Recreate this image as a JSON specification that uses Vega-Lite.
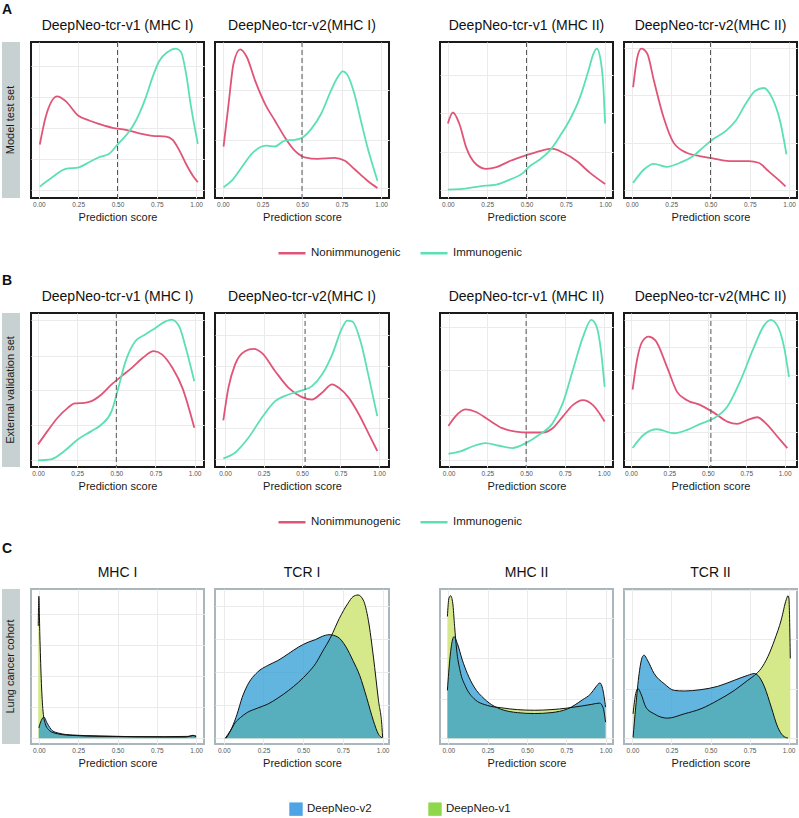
{
"$schema": "https://vega.github.io/schema/vega-lite/v6.json",
"padding": {"left": 2, "top": 2, "right": 0, "bottom": 0},
"background": "white",
"datasets": {"d": [
{"p":"A1","s":"Nonimmunogenic","x":0.006,"y":0.343},{"p":"A1","s":"Nonimmunogenic","x":0.043,"y":0.518},{"p":"A1","s":"Nonimmunogenic","x":0.117,"y":0.651},{"p":"A1","s":"Nonimmunogenic","x":0.170,"y":0.621},{"p":"A1","s":"Nonimmunogenic","x":0.249,"y":0.529},{"p":"A1","s":"Nonimmunogenic","x":0.319,"y":0.497},{"p":"A1","s":"Nonimmunogenic","x":0.383,"y":0.475},{"p":"A1","s":"Nonimmunogenic","x":0.468,"y":0.450},{"p":"A1","s":"Nonimmunogenic","x":0.553,"y":0.437},{"p":"A1","s":"Nonimmunogenic","x":0.638,"y":0.415},{"p":"A1","s":"Nonimmunogenic","x":0.723,"y":0.398},{"p":"A1","s":"Nonimmunogenic","x":0.809,"y":0.394},{"p":"A1","s":"Nonimmunogenic","x":0.851,"y":0.373},{"p":"A1","s":"Nonimmunogenic","x":0.894,"y":0.304},{"p":"A1","s":"Nonimmunogenic","x":0.936,"y":0.218},{"p":"A1","s":"Nonimmunogenic","x":0.979,"y":0.143},{"p":"A1","s":"Nonimmunogenic","x":1.011,"y":0.101},
{"p":"A1","s":"Immunogenic","x":0.006,"y":0.073},{"p":"A1","s":"Immunogenic","x":0.085,"y":0.133},{"p":"A1","s":"Immunogenic","x":0.170,"y":0.186},{"p":"A1","s":"Immunogenic","x":0.255,"y":0.197},{"p":"A1","s":"Immunogenic","x":0.319,"y":0.229},{"p":"A1","s":"Immunogenic","x":0.383,"y":0.261},{"p":"A1","s":"Immunogenic","x":0.447,"y":0.283},{"p":"A1","s":"Immunogenic","x":0.5,"y":0.343},{"p":"A1","s":"Immunogenic","x":0.553,"y":0.400},{"p":"A1","s":"Immunogenic","x":0.596,"y":0.458},{"p":"A1","s":"Immunogenic","x":0.638,"y":0.540},{"p":"A1","s":"Immunogenic","x":0.681,"y":0.647},{"p":"A1","s":"Immunogenic","x":0.723,"y":0.775},{"p":"A1","s":"Immunogenic","x":0.766,"y":0.878},{"p":"A1","s":"Immunogenic","x":0.819,"y":0.936},{"p":"A1","s":"Immunogenic","x":0.872,"y":0.957},{"p":"A1","s":"Immunogenic","x":0.904,"y":0.936},{"p":"A1","s":"Immunogenic","x":0.936,"y":0.797},{"p":"A1","s":"Immunogenic","x":0.968,"y":0.582},{"p":"A1","s":"Immunogenic","x":1.011,"y":0.347},
{"p":"A2","s":"Nonimmunogenic","x":0.004,"y":0.330},{"p":"A2","s":"Nonimmunogenic","x":0.036,"y":0.604},{"p":"A2","s":"Nonimmunogenic","x":0.067,"y":0.861},{"p":"A2","s":"Nonimmunogenic","x":0.109,"y":0.953},{"p":"A2","s":"Nonimmunogenic","x":0.151,"y":0.904},{"p":"A2","s":"Nonimmunogenic","x":0.203,"y":0.754},{"p":"A2","s":"Nonimmunogenic","x":0.266,"y":0.604},{"p":"A2","s":"Nonimmunogenic","x":0.328,"y":0.497},{"p":"A2","s":"Nonimmunogenic","x":0.391,"y":0.390},{"p":"A2","s":"Nonimmunogenic","x":0.454,"y":0.304},{"p":"A2","s":"Nonimmunogenic","x":0.517,"y":0.261},{"p":"A2","s":"Nonimmunogenic","x":0.600,"y":0.251},{"p":"A2","s":"Nonimmunogenic","x":0.705,"y":0.257},{"p":"A2","s":"Nonimmunogenic","x":0.768,"y":0.240},{"p":"A2","s":"Nonimmunogenic","x":0.831,"y":0.186},{"p":"A2","s":"Nonimmunogenic","x":0.914,"y":0.111},{"p":"A2","s":"Nonimmunogenic","x":0.977,"y":0.064},
{"p":"A2","s":"Immunogenic","x":0.004,"y":0.069},{"p":"A2","s":"Immunogenic","x":0.056,"y":0.111},{"p":"A2","s":"Immunogenic","x":0.119,"y":0.197},{"p":"A2","s":"Immunogenic","x":0.182,"y":0.283},{"p":"A2","s":"Immunogenic","x":0.245,"y":0.330},{"p":"A2","s":"Immunogenic","x":0.276,"y":0.336},{"p":"A2","s":"Immunogenic","x":0.328,"y":0.330},{"p":"A2","s":"Immunogenic","x":0.391,"y":0.368},{"p":"A2","s":"Immunogenic","x":0.454,"y":0.373},{"p":"A2","s":"Immunogenic","x":0.506,"y":0.390},{"p":"A2","s":"Immunogenic","x":0.559,"y":0.443},{"p":"A2","s":"Immunogenic","x":0.621,"y":0.540},{"p":"A2","s":"Immunogenic","x":0.684,"y":0.690},{"p":"A2","s":"Immunogenic","x":0.726,"y":0.775},{"p":"A2","s":"Immunogenic","x":0.757,"y":0.812},{"p":"A2","s":"Immunogenic","x":0.789,"y":0.786},{"p":"A2","s":"Immunogenic","x":0.831,"y":0.668},{"p":"A2","s":"Immunogenic","x":0.872,"y":0.497},{"p":"A2","s":"Immunogenic","x":0.914,"y":0.325},{"p":"A2","s":"Immunogenic","x":0.977,"y":0.111},
{"p":"A3","s":"Nonimmunogenic","x":0.0,"y":0.477},{"p":"A3","s":"Nonimmunogenic","x":0.032,"y":0.548},{"p":"A3","s":"Nonimmunogenic","x":0.074,"y":0.473},{"p":"A3","s":"Nonimmunogenic","x":0.117,"y":0.323},{"p":"A3","s":"Nonimmunogenic","x":0.181,"y":0.215},{"p":"A3","s":"Nonimmunogenic","x":0.245,"y":0.187},{"p":"A3","s":"Nonimmunogenic","x":0.309,"y":0.198},{"p":"A3","s":"Nonimmunogenic","x":0.394,"y":0.237},{"p":"A3","s":"Nonimmunogenic","x":0.5,"y":0.275},{"p":"A3","s":"Nonimmunogenic","x":0.585,"y":0.301},{"p":"A3","s":"Nonimmunogenic","x":0.660,"y":0.316},{"p":"A3","s":"Nonimmunogenic","x":0.734,"y":0.290},{"p":"A3","s":"Nonimmunogenic","x":0.819,"y":0.237},{"p":"A3","s":"Nonimmunogenic","x":0.904,"y":0.161},{"p":"A3","s":"Nonimmunogenic","x":1.0,"y":0.090},
{"p":"A3","s":"Immunogenic","x":0.0,"y":0.054},{"p":"A3","s":"Immunogenic","x":0.096,"y":0.058},{"p":"A3","s":"Immunogenic","x":0.202,"y":0.075},{"p":"A3","s":"Immunogenic","x":0.309,"y":0.086},{"p":"A3","s":"Immunogenic","x":0.394,"y":0.118},{"p":"A3","s":"Immunogenic","x":0.479,"y":0.161},{"p":"A3","s":"Immunogenic","x":0.521,"y":0.204},{"p":"A3","s":"Immunogenic","x":0.585,"y":0.247},{"p":"A3","s":"Immunogenic","x":0.649,"y":0.305},{"p":"A3","s":"Immunogenic","x":0.713,"y":0.398},{"p":"A3","s":"Immunogenic","x":0.777,"y":0.505},{"p":"A3","s":"Immunogenic","x":0.840,"y":0.645},{"p":"A3","s":"Immunogenic","x":0.894,"y":0.817},{"p":"A3","s":"Immunogenic","x":0.926,"y":0.925},{"p":"A3","s":"Immunogenic","x":0.947,"y":0.957},{"p":"A3","s":"Immunogenic","x":0.968,"y":0.903},{"p":"A3","s":"Immunogenic","x":0.989,"y":0.710},{"p":"A3","s":"Immunogenic","x":1.0,"y":0.477},
{"p":"A4","s":"Nonimmunogenic","x":0.008,"y":0.710},{"p":"A4","s":"Nonimmunogenic","x":0.035,"y":0.903},{"p":"A4","s":"Nonimmunogenic","x":0.060,"y":0.957},{"p":"A4","s":"Nonimmunogenic","x":0.098,"y":0.925},{"p":"A4","s":"Nonimmunogenic","x":0.140,"y":0.753},{"p":"A4","s":"Nonimmunogenic","x":0.202,"y":0.516},{"p":"A4","s":"Nonimmunogenic","x":0.265,"y":0.355},{"p":"A4","s":"Nonimmunogenic","x":0.348,"y":0.290},{"p":"A4","s":"Nonimmunogenic","x":0.431,"y":0.269},{"p":"A4","s":"Nonimmunogenic","x":0.515,"y":0.254},{"p":"A4","s":"Nonimmunogenic","x":0.619,"y":0.237},{"p":"A4","s":"Nonimmunogenic","x":0.744,"y":0.237},{"p":"A4","s":"Nonimmunogenic","x":0.806,"y":0.226},{"p":"A4","s":"Nonimmunogenic","x":0.869,"y":0.172},{"p":"A4","s":"Nonimmunogenic","x":0.931,"y":0.118},{"p":"A4","s":"Nonimmunogenic","x":0.977,"y":0.075},
{"p":"A4","s":"Immunogenic","x":0.008,"y":0.097},{"p":"A4","s":"Immunogenic","x":0.077,"y":0.183},{"p":"A4","s":"Immunogenic","x":0.140,"y":0.219},{"p":"A4","s":"Immunogenic","x":0.223,"y":0.200},{"p":"A4","s":"Immunogenic","x":0.306,"y":0.226},{"p":"A4","s":"Immunogenic","x":0.390,"y":0.269},{"p":"A4","s":"Immunogenic","x":0.452,"y":0.323},{"p":"A4","s":"Immunogenic","x":0.515,"y":0.376},{"p":"A4","s":"Immunogenic","x":0.598,"y":0.430},{"p":"A4","s":"Immunogenic","x":0.660,"y":0.495},{"p":"A4","s":"Immunogenic","x":0.723,"y":0.602},{"p":"A4","s":"Immunogenic","x":0.785,"y":0.688},{"p":"A4","s":"Immunogenic","x":0.838,"y":0.705},{"p":"A4","s":"Immunogenic","x":0.890,"y":0.645},{"p":"A4","s":"Immunogenic","x":0.942,"y":0.495},{"p":"A4","s":"Immunogenic","x":0.983,"y":0.280},
{"p":"B1","s":"Nonimmunogenic","x":0.0,"y":0.147},{"p":"B1","s":"Nonimmunogenic","x":0.060,"y":0.233},{"p":"B1","s":"Nonimmunogenic","x":0.125,"y":0.320},{"p":"B1","s":"Nonimmunogenic","x":0.190,"y":0.384},{"p":"B1","s":"Nonimmunogenic","x":0.233,"y":0.413},{"p":"B1","s":"Nonimmunogenic","x":0.297,"y":0.417},{"p":"B1","s":"Nonimmunogenic","x":0.341,"y":0.428},{"p":"B1","s":"Nonimmunogenic","x":0.405,"y":0.471},{"p":"B1","s":"Nonimmunogenic","x":0.470,"y":0.536},{"p":"B1","s":"Nonimmunogenic","x":0.534,"y":0.590},{"p":"B1","s":"Nonimmunogenic","x":0.599,"y":0.644},{"p":"B1","s":"Nonimmunogenic","x":0.664,"y":0.704},{"p":"B1","s":"Nonimmunogenic","x":0.739,"y":0.752},{"p":"B1","s":"Nonimmunogenic","x":0.793,"y":0.730},{"p":"B1","s":"Nonimmunogenic","x":0.858,"y":0.644},{"p":"B1","s":"Nonimmunogenic","x":0.922,"y":0.514},{"p":"B1","s":"Nonimmunogenic","x":0.998,"y":0.255},
{"p":"B1","s":"Immunogenic","x":0.0,"y":0.043},{"p":"B1","s":"Immunogenic","x":0.082,"y":0.050},{"p":"B1","s":"Immunogenic","x":0.168,"y":0.104},{"p":"B1","s":"Immunogenic","x":0.254,"y":0.179},{"p":"B1","s":"Immunogenic","x":0.341,"y":0.233},{"p":"B1","s":"Immunogenic","x":0.405,"y":0.276},{"p":"B1","s":"Immunogenic","x":0.470,"y":0.363},{"p":"B1","s":"Immunogenic","x":0.513,"y":0.514},{"p":"B1","s":"Immunogenic","x":0.556,"y":0.676},{"p":"B1","s":"Immunogenic","x":0.621,"y":0.816},{"p":"B1","s":"Immunogenic","x":0.685,"y":0.860},{"p":"B1","s":"Immunogenic","x":0.750,"y":0.903},{"p":"B1","s":"Immunogenic","x":0.815,"y":0.946},{"p":"B1","s":"Immunogenic","x":0.853,"y":0.957},{"p":"B1","s":"Immunogenic","x":0.901,"y":0.914},{"p":"B1","s":"Immunogenic","x":0.944,"y":0.773},{"p":"B1","s":"Immunogenic","x":0.998,"y":0.557},
{"p":"B2","s":"Nonimmunogenic","x":-0.011,"y":0.302},{"p":"B2","s":"Nonimmunogenic","x":0.022,"y":0.514},{"p":"B2","s":"Nonimmunogenic","x":0.065,"y":0.665},{"p":"B2","s":"Nonimmunogenic","x":0.130,"y":0.752},{"p":"B2","s":"Nonimmunogenic","x":0.185,"y":0.767},{"p":"B2","s":"Nonimmunogenic","x":0.239,"y":0.741},{"p":"B2","s":"Nonimmunogenic","x":0.326,"y":0.622},{"p":"B2","s":"Nonimmunogenic","x":0.413,"y":0.514},{"p":"B2","s":"Nonimmunogenic","x":0.5,"y":0.454},{"p":"B2","s":"Nonimmunogenic","x":0.565,"y":0.438},{"p":"B2","s":"Nonimmunogenic","x":0.630,"y":0.482},{"p":"B2","s":"Nonimmunogenic","x":0.696,"y":0.536},{"p":"B2","s":"Nonimmunogenic","x":0.739,"y":0.514},{"p":"B2","s":"Nonimmunogenic","x":0.804,"y":0.449},{"p":"B2","s":"Nonimmunogenic","x":0.870,"y":0.341},{"p":"B2","s":"Nonimmunogenic","x":0.935,"y":0.212},{"p":"B2","s":"Nonimmunogenic","x":0.989,"y":0.104},
{"p":"B2","s":"Immunogenic","x":-0.011,"y":0.056},{"p":"B2","s":"Immunogenic","x":0.065,"y":0.093},{"p":"B2","s":"Immunogenic","x":0.152,"y":0.190},{"p":"B2","s":"Immunogenic","x":0.239,"y":0.320},{"p":"B2","s":"Immunogenic","x":0.326,"y":0.428},{"p":"B2","s":"Immunogenic","x":0.413,"y":0.471},{"p":"B2","s":"Immunogenic","x":0.5,"y":0.497},{"p":"B2","s":"Immunogenic","x":0.565,"y":0.525},{"p":"B2","s":"Immunogenic","x":0.630,"y":0.600},{"p":"B2","s":"Immunogenic","x":0.696,"y":0.730},{"p":"B2","s":"Immunogenic","x":0.761,"y":0.903},{"p":"B2","s":"Immunogenic","x":0.793,"y":0.950},{"p":"B2","s":"Immunogenic","x":0.826,"y":0.946},{"p":"B2","s":"Immunogenic","x":0.880,"y":0.816},{"p":"B2","s":"Immunogenic","x":0.935,"y":0.579},{"p":"B2","s":"Immunogenic","x":0.989,"y":0.330},
{"p":"B3","s":"Nonimmunogenic","x":0.0,"y":0.267},{"p":"B3","s":"Nonimmunogenic","x":0.043,"y":0.327},{"p":"B3","s":"Nonimmunogenic","x":0.108,"y":0.374},{"p":"B3","s":"Nonimmunogenic","x":0.173,"y":0.359},{"p":"B3","s":"Nonimmunogenic","x":0.260,"y":0.305},{"p":"B3","s":"Nonimmunogenic","x":0.346,"y":0.252},{"p":"B3","s":"Nonimmunogenic","x":0.433,"y":0.230},{"p":"B3","s":"Nonimmunogenic","x":0.519,"y":0.224},{"p":"B3","s":"Nonimmunogenic","x":0.606,"y":0.224},{"p":"B3","s":"Nonimmunogenic","x":0.671,"y":0.252},{"p":"B3","s":"Nonimmunogenic","x":0.736,"y":0.327},{"p":"B3","s":"Nonimmunogenic","x":0.801,"y":0.402},{"p":"B3","s":"Nonimmunogenic","x":0.866,"y":0.434},{"p":"B3","s":"Nonimmunogenic","x":0.931,"y":0.402},{"p":"B3","s":"Nonimmunogenic","x":1.006,"y":0.295},
{"p":"B3","s":"Immunogenic","x":0.0,"y":0.086},{"p":"B3","s":"Immunogenic","x":0.076,"y":0.101},{"p":"B3","s":"Immunogenic","x":0.152,"y":0.133},{"p":"B3","s":"Immunogenic","x":0.238,"y":0.155},{"p":"B3","s":"Immunogenic","x":0.325,"y":0.138},{"p":"B3","s":"Immunogenic","x":0.411,"y":0.123},{"p":"B3","s":"Immunogenic","x":0.498,"y":0.155},{"p":"B3","s":"Immunogenic","x":0.584,"y":0.209},{"p":"B3","s":"Immunogenic","x":0.671,"y":0.284},{"p":"B3","s":"Immunogenic","x":0.736,"y":0.413},{"p":"B3","s":"Immunogenic","x":0.801,"y":0.628},{"p":"B3","s":"Immunogenic","x":0.866,"y":0.843},{"p":"B3","s":"Immunogenic","x":0.920,"y":0.955},{"p":"B3","s":"Immunogenic","x":0.952,"y":0.918},{"p":"B3","s":"Immunogenic","x":0.985,"y":0.735},{"p":"B3","s":"Immunogenic","x":1.006,"y":0.520},
{"p":"B4","s":"Nonimmunogenic","x":0.011,"y":0.503},{"p":"B4","s":"Nonimmunogenic","x":0.039,"y":0.692},{"p":"B4","s":"Nonimmunogenic","x":0.072,"y":0.811},{"p":"B4","s":"Nonimmunogenic","x":0.115,"y":0.847},{"p":"B4","s":"Nonimmunogenic","x":0.159,"y":0.822},{"p":"B4","s":"Nonimmunogenic","x":0.235,"y":0.649},{"p":"B4","s":"Nonimmunogenic","x":0.300,"y":0.488},{"p":"B4","s":"Nonimmunogenic","x":0.365,"y":0.434},{"p":"B4","s":"Nonimmunogenic","x":0.452,"y":0.402},{"p":"B4","s":"Nonimmunogenic","x":0.539,"y":0.353},{"p":"B4","s":"Nonimmunogenic","x":0.626,"y":0.295},{"p":"B4","s":"Nonimmunogenic","x":0.691,"y":0.280},{"p":"B4","s":"Nonimmunogenic","x":0.757,"y":0.305},{"p":"B4","s":"Nonimmunogenic","x":0.822,"y":0.323},{"p":"B4","s":"Nonimmunogenic","x":0.887,"y":0.273},{"p":"B4","s":"Nonimmunogenic","x":0.952,"y":0.198},{"p":"B4","s":"Nonimmunogenic","x":1.017,"y":0.123},
{"p":"B4","s":"Immunogenic","x":0.011,"y":0.123},{"p":"B4","s":"Immunogenic","x":0.083,"y":0.209},{"p":"B4","s":"Immunogenic","x":0.170,"y":0.245},{"p":"B4","s":"Immunogenic","x":0.278,"y":0.219},{"p":"B4","s":"Immunogenic","x":0.365,"y":0.241},{"p":"B4","s":"Immunogenic","x":0.452,"y":0.280},{"p":"B4","s":"Immunogenic","x":0.539,"y":0.316},{"p":"B4","s":"Immunogenic","x":0.626,"y":0.391},{"p":"B4","s":"Immunogenic","x":0.713,"y":0.563},{"p":"B4","s":"Immunogenic","x":0.800,"y":0.778},{"p":"B4","s":"Immunogenic","x":0.865,"y":0.918},{"p":"B4","s":"Immunogenic","x":0.909,"y":0.955},{"p":"B4","s":"Immunogenic","x":0.952,"y":0.918},{"p":"B4","s":"Immunogenic","x":0.996,"y":0.778},{"p":"B4","s":"Immunogenic","x":1.028,"y":0.585},
{"p":"C1","s":"DeepNeo-v1","x":-0.004,"y":0.753},{"p":"C1","s":"DeepNeo-v1","x":0.0,"y":0.951},{"p":"C1","s":"DeepNeo-v1","x":0.006,"y":0.70},{"p":"C1","s":"DeepNeo-v1","x":0.015,"y":0.40},{"p":"C1","s":"DeepNeo-v1","x":0.025,"y":0.20},{"p":"C1","s":"DeepNeo-v1","x":0.04,"y":0.10},{"p":"C1","s":"DeepNeo-v1","x":0.06,"y":0.06},{"p":"C1","s":"DeepNeo-v1","x":0.1,"y":0.035},{"p":"C1","s":"DeepNeo-v1","x":0.2,"y":0.02},{"p":"C1","s":"DeepNeo-v1","x":0.4,"y":0.013},{"p":"C1","s":"DeepNeo-v1","x":0.6,"y":0.011},{"p":"C1","s":"DeepNeo-v1","x":0.8,"y":0.011},{"p":"C1","s":"DeepNeo-v1","x":0.95,"y":0.013},{"p":"C1","s":"DeepNeo-v1","x":0.98,"y":0.02},{"p":"C1","s":"DeepNeo-v1","x":1.0,"y":0.015},
{"p":"C1","s":"DeepNeo-v2","x":0.0,"y":0.07},{"p":"C1","s":"DeepNeo-v2","x":0.015,"y":0.119},{"p":"C1","s":"DeepNeo-v2","x":0.032,"y":0.142},{"p":"C1","s":"DeepNeo-v2","x":0.053,"y":0.101},{"p":"C1","s":"DeepNeo-v2","x":0.085,"y":0.052},{"p":"C1","s":"DeepNeo-v2","x":0.128,"y":0.034},{"p":"C1","s":"DeepNeo-v2","x":0.213,"y":0.022},{"p":"C1","s":"DeepNeo-v2","x":0.383,"y":0.016},{"p":"C1","s":"DeepNeo-v2","x":0.596,"y":0.011},{"p":"C1","s":"DeepNeo-v2","x":0.809,"y":0.009},{"p":"C1","s":"DeepNeo-v2","x":0.936,"y":0.009},{"p":"C1","s":"DeepNeo-v2","x":0.979,"y":0.018},{"p":"C1","s":"DeepNeo-v2","x":1.0,"y":0.011},
{"p":"C2","s":"DeepNeo-v1","x":0.009,"y":0.0},{"p":"C2","s":"DeepNeo-v1","x":0.041,"y":0.049},{"p":"C2","s":"DeepNeo-v1","x":0.073,"y":0.106},{"p":"C2","s":"DeepNeo-v1","x":0.105,"y":0.139},{"p":"C2","s":"DeepNeo-v1","x":0.148,"y":0.173},{"p":"C2","s":"DeepNeo-v1","x":0.212,"y":0.202},{"p":"C2","s":"DeepNeo-v1","x":0.277,"y":0.229},{"p":"C2","s":"DeepNeo-v1","x":0.341,"y":0.270},{"p":"C2","s":"DeepNeo-v1","x":0.406,"y":0.319},{"p":"C2","s":"DeepNeo-v1","x":0.470,"y":0.375},{"p":"C2","s":"DeepNeo-v1","x":0.534,"y":0.443},{"p":"C2","s":"DeepNeo-v1","x":0.577,"y":0.499},{"p":"C2","s":"DeepNeo-v1","x":0.620,"y":0.578},{"p":"C2","s":"DeepNeo-v1","x":0.674,"y":0.679},{"p":"C2","s":"DeepNeo-v1","x":0.727,"y":0.802},{"p":"C2","s":"DeepNeo-v1","x":0.781,"y":0.903},{"p":"C2","s":"DeepNeo-v1","x":0.813,"y":0.948},{"p":"C2","s":"DeepNeo-v1","x":0.845,"y":0.960},{"p":"C2","s":"DeepNeo-v1","x":0.878,"y":0.926},{"p":"C2","s":"DeepNeo-v1","x":0.910,"y":0.791},{"p":"C2","s":"DeepNeo-v1","x":0.942,"y":0.544},{"p":"C2","s":"DeepNeo-v1","x":0.974,"y":0.252},{"p":"C2","s":"DeepNeo-v1","x":0.996,"y":0.072},{"p":"C2","s":"DeepNeo-v1","x":1.0,"y":0.004},
{"p":"C2","s":"DeepNeo-v2","x":0.015,"y":0.0},{"p":"C2","s":"DeepNeo-v2","x":0.052,"y":0.072},{"p":"C2","s":"DeepNeo-v2","x":0.084,"y":0.162},{"p":"C2","s":"DeepNeo-v2","x":0.116,"y":0.274},{"p":"C2","s":"DeepNeo-v2","x":0.148,"y":0.353},{"p":"C2","s":"DeepNeo-v2","x":0.212,"y":0.443},{"p":"C2","s":"DeepNeo-v2","x":0.277,"y":0.488},{"p":"C2","s":"DeepNeo-v2","x":0.341,"y":0.521},{"p":"C2","s":"DeepNeo-v2","x":0.406,"y":0.566},{"p":"C2","s":"DeepNeo-v2","x":0.470,"y":0.611},{"p":"C2","s":"DeepNeo-v2","x":0.534,"y":0.645},{"p":"C2","s":"DeepNeo-v2","x":0.577,"y":0.661},{"p":"C2","s":"DeepNeo-v2","x":0.620,"y":0.683},{"p":"C2","s":"DeepNeo-v2","x":0.663,"y":0.694},{"p":"C2","s":"DeepNeo-v2","x":0.717,"y":0.679},{"p":"C2","s":"DeepNeo-v2","x":0.770,"y":0.611},{"p":"C2","s":"DeepNeo-v2","x":0.813,"y":0.521},{"p":"C2","s":"DeepNeo-v2","x":0.856,"y":0.420},{"p":"C2","s":"DeepNeo-v2","x":0.899,"y":0.274},{"p":"C2","s":"DeepNeo-v2","x":0.942,"y":0.117},{"p":"C2","s":"DeepNeo-v2","x":0.974,"y":0.027},{"p":"C2","s":"DeepNeo-v2","x":0.996,"y":0.004},
{"p":"C3","s":"DeepNeo-v1","x":-0.006,"y":0.816},{"p":"C3","s":"DeepNeo-v1","x":0.004,"y":0.939},{"p":"C3","s":"DeepNeo-v1","x":0.015,"y":0.955},{"p":"C3","s":"DeepNeo-v1","x":0.028,"y":0.906},{"p":"C3","s":"DeepNeo-v1","x":0.040,"y":0.748},{"p":"C3","s":"DeepNeo-v1","x":0.053,"y":0.591},{"p":"C3","s":"DeepNeo-v1","x":0.074,"y":0.456},{"p":"C3","s":"DeepNeo-v1","x":0.111,"y":0.344},{"p":"C3","s":"DeepNeo-v1","x":0.164,"y":0.265},{"p":"C3","s":"DeepNeo-v1","x":0.249,"y":0.220},{"p":"C3","s":"DeepNeo-v1","x":0.334,"y":0.205},{"p":"C3","s":"DeepNeo-v1","x":0.440,"y":0.192},{"p":"C3","s":"DeepNeo-v1","x":0.547,"y":0.188},{"p":"C3","s":"DeepNeo-v1","x":0.653,"y":0.192},{"p":"C3","s":"DeepNeo-v1","x":0.760,"y":0.203},{"p":"C3","s":"DeepNeo-v1","x":0.845,"y":0.216},{"p":"C3","s":"DeepNeo-v1","x":0.909,"y":0.227},{"p":"C3","s":"DeepNeo-v1","x":0.962,"y":0.236},{"p":"C3","s":"DeepNeo-v1","x":0.983,"y":0.209},{"p":"C3","s":"DeepNeo-v1","x":1.0,"y":0.108},
{"p":"C3","s":"DeepNeo-v2","x":-0.006,"y":0.321},{"p":"C3","s":"DeepNeo-v2","x":0.011,"y":0.546},{"p":"C3","s":"DeepNeo-v2","x":0.026,"y":0.658},{"p":"C3","s":"DeepNeo-v2","x":0.036,"y":0.681},{"p":"C3","s":"DeepNeo-v2","x":0.057,"y":0.636},{"p":"C3","s":"DeepNeo-v2","x":0.089,"y":0.524},{"p":"C3","s":"DeepNeo-v2","x":0.121,"y":0.434},{"p":"C3","s":"DeepNeo-v2","x":0.164,"y":0.344},{"p":"C3","s":"DeepNeo-v2","x":0.228,"y":0.265},{"p":"C3","s":"DeepNeo-v2","x":0.291,"y":0.215},{"p":"C3","s":"DeepNeo-v2","x":0.334,"y":0.195},{"p":"C3","s":"DeepNeo-v2","x":0.440,"y":0.172},{"p":"C3","s":"DeepNeo-v2","x":0.547,"y":0.166},{"p":"C3","s":"DeepNeo-v2","x":0.653,"y":0.172},{"p":"C3","s":"DeepNeo-v2","x":0.760,"y":0.198},{"p":"C3","s":"DeepNeo-v2","x":0.853,"y":0.258},{"p":"C3","s":"DeepNeo-v2","x":0.906,"y":0.299},{"p":"C3","s":"DeepNeo-v2","x":0.938,"y":0.344},{"p":"C3","s":"DeepNeo-v2","x":0.964,"y":0.371},{"p":"C3","s":"DeepNeo-v2","x":0.981,"y":0.333},{"p":"C3","s":"DeepNeo-v2","x":1.0,"y":0.209},
{"p":"C4","s":"DeepNeo-v1","x":0.004,"y":0.164},{"p":"C4","s":"DeepNeo-v1","x":0.021,"y":0.299},{"p":"C4","s":"DeepNeo-v1","x":0.036,"y":0.333},{"p":"C4","s":"DeepNeo-v1","x":0.054,"y":0.299},{"p":"C4","s":"DeepNeo-v1","x":0.086,"y":0.209},{"p":"C4","s":"DeepNeo-v1","x":0.139,"y":0.164},{"p":"C4","s":"DeepNeo-v1","x":0.225,"y":0.135},{"p":"C4","s":"DeepNeo-v1","x":0.332,"y":0.164},{"p":"C4","s":"DeepNeo-v1","x":0.439,"y":0.198},{"p":"C4","s":"DeepNeo-v1","x":0.546,"y":0.254},{"p":"C4","s":"DeepNeo-v1","x":0.653,"y":0.321},{"p":"C4","s":"DeepNeo-v1","x":0.739,"y":0.389},{"p":"C4","s":"DeepNeo-v1","x":0.782,"y":0.422},{"p":"C4","s":"DeepNeo-v1","x":0.824,"y":0.467},{"p":"C4","s":"DeepNeo-v1","x":0.867,"y":0.546},{"p":"C4","s":"DeepNeo-v1","x":0.910,"y":0.658},{"p":"C4","s":"DeepNeo-v1","x":0.953,"y":0.793},{"p":"C4","s":"DeepNeo-v1","x":0.985,"y":0.928},{"p":"C4","s":"DeepNeo-v1","x":0.996,"y":0.955},{"p":"C4","s":"DeepNeo-v1","x":1.002,"y":0.939},{"p":"C4","s":"DeepNeo-v1","x":1.011,"y":0.535},
{"p":"C4","s":"DeepNeo-v2","x":0.004,"y":0.007},{"p":"C4","s":"DeepNeo-v2","x":0.021,"y":0.209},{"p":"C4","s":"DeepNeo-v2","x":0.043,"y":0.434},{"p":"C4","s":"DeepNeo-v2","x":0.064,"y":0.546},{"p":"C4","s":"DeepNeo-v2","x":0.075,"y":0.557},{"p":"C4","s":"DeepNeo-v2","x":0.096,"y":0.524},{"p":"C4","s":"DeepNeo-v2","x":0.139,"y":0.434},{"p":"C4","s":"DeepNeo-v2","x":0.203,"y":0.366},{"p":"C4","s":"DeepNeo-v2","x":0.268,"y":0.321},{"p":"C4","s":"DeepNeo-v2","x":0.332,"y":0.317},{"p":"C4","s":"DeepNeo-v2","x":0.439,"y":0.326},{"p":"C4","s":"DeepNeo-v2","x":0.546,"y":0.348},{"p":"C4","s":"DeepNeo-v2","x":0.653,"y":0.389},{"p":"C4","s":"DeepNeo-v2","x":0.739,"y":0.422},{"p":"C4","s":"DeepNeo-v2","x":0.782,"y":0.434},{"p":"C4","s":"DeepNeo-v2","x":0.803,"y":0.422},{"p":"C4","s":"DeepNeo-v2","x":0.846,"y":0.344},{"p":"C4","s":"DeepNeo-v2","x":0.889,"y":0.209},{"p":"C4","s":"DeepNeo-v2","x":0.931,"y":0.074},{"p":"C4","s":"DeepNeo-v2","x":0.964,"y":0.018},{"p":"C4","s":"DeepNeo-v2","x":0.996,"y":0.002}
]},
"spacing": 14,
"resolve": {"scale": {"stroke": "independent"}, "legend": {"stroke": "independent"}},
"vconcat": [
{
 "title": {"text": "A", "anchor": "start", "fontSize": 14, "fontWeight": "bold", "offset": 1},
 "bounds": "flush", "spacing": 11,
 "hconcat": [
   {"width": 18, "height": 156, "view": {"fill": "#C8D1D1", "stroke": null}, "data": {"values": [{"label": "Model test set"}]}, "mark": {"type": "text", "angle": 270, "fontSize": 11, "color": "#1a1a1a"}, "encoding": {"text": {"field": "label"}}},
   {"width": 173, "height": 156, "title": "DeepNeo-tcr-v1 (MHC I)", "view": {"stroke": "#1a1a1a", "strokeWidth": 2}, "data": {"name": "d"},
    "encoding": {"x": {"field": "x", "type": "quantitative", "title": "Prediction score", "scale": {"domain": [-0.05, 1.05], "nice": false, "zero": false}, "axis": {"values": [0, 0.25, 0.5, 0.75, 1]}}},
    "layer": [
     {"transform": [{"filter": "datum.p == 'A1'"}], "mark": {"type": "line", "interpolate": "monotone", "strokeWidth": 1.8},
      "encoding": {"y": {"field": "y", "type": "quantitative", "title": null, "scale": {"domain": [0, 1], "nice": false, "zero": false}, "axis": {"values": [0.054, 0.251, 0.448, 0.645, 0.844]}},
       "stroke": {"field": "s", "type": "nominal", "scale": {"domain": ["Nonimmunogenic", "Immunogenic"], "range": ["#E05577", "#5CE0B3"]}, "legend": {"orient": "bottom", "direction": "horizontal", "title": null, "symbolType": "stroke", "symbolSize": 730, "symbolStrokeWidth": 2.5, "columnPadding": 14, "offset": 14}}}},
     {"data": {"values": [{"x": 0.5}]}, "mark": {"type": "rule", "strokeDash": [5, 3], "color": "#555555", "strokeWidth": 1}}
    ]},
   {"width": 174, "height": 156, "title": "DeepNeo-tcr-v2(MHC I)", "view": {"stroke": "#1a1a1a", "strokeWidth": 2}, "data": {"name": "d"},
    "encoding": {"x": {"field": "x", "type": "quantitative", "title": "Prediction score", "scale": {"domain": [-0.05, 1.05], "nice": false, "zero": false}, "axis": {"values": [0, 0.25, 0.5, 0.75, 1]}}},
    "layer": [
     {"transform": [{"filter": "datum.p == 'A2'"}], "mark": {"type": "line", "interpolate": "monotone", "strokeWidth": 1.8},
      "encoding": {"y": {"field": "y", "type": "quantitative", "title": null, "scale": {"domain": [0, 1], "nice": false, "zero": false}, "axis": {"values": [0.062, 0.373, 0.694]}},
       "stroke": {"field": "s", "type": "nominal", "scale": {"domain": ["Nonimmunogenic", "Immunogenic"], "range": ["#E05577", "#5CE0B3"]}, "legend": {"orient": "bottom", "direction": "horizontal", "title": null, "symbolType": "stroke", "symbolSize": 730, "symbolStrokeWidth": 2.5, "columnPadding": 14, "offset": 14}}}},
     {"data": {"values": [{"x": 0.5}]}, "mark": {"type": "rule", "strokeDash": [5, 3], "color": "#555555", "strokeWidth": 1}}
    ]},
   {"width": 29, "height": 156, "data": {"values": []}, "mark": "point"},
   {"width": 173, "height": 156, "title": "DeepNeo-tcr-v1 (MHC II)", "view": {"stroke": "#1a1a1a", "strokeWidth": 2}, "data": {"name": "d"},
    "encoding": {"x": {"field": "x", "type": "quantitative", "title": "Prediction score", "scale": {"domain": [-0.05, 1.05], "nice": false, "zero": false}, "axis": {"values": [0, 0.25, 0.5, 0.75, 1]}}},
    "layer": [
     {"transform": [{"filter": "datum.p == 'A3'"}], "mark": {"type": "line", "interpolate": "monotone", "strokeWidth": 1.8},
      "encoding": {"y": {"field": "y", "type": "quantitative", "title": null, "scale": {"domain": [0, 1], "nice": false, "zero": false}, "axis": {"values": [0.049, 0.297, 0.544, 0.789]}},
       "stroke": {"field": "s", "type": "nominal", "scale": {"domain": ["Nonimmunogenic", "Immunogenic"], "range": ["#E05577", "#5CE0B3"]}, "legend": {"orient": "bottom", "direction": "horizontal", "title": null, "symbolType": "stroke", "symbolSize": 730, "symbolStrokeWidth": 2.5, "columnPadding": 14, "offset": 14}}}},
     {"data": {"values": [{"x": 0.5}]}, "mark": {"type": "rule", "strokeDash": [5, 3], "color": "#555555", "strokeWidth": 1}}
    ]},
   {"width": 173, "height": 156, "title": "DeepNeo-tcr-v2(MHC II)", "view": {"stroke": "#1a1a1a", "strokeWidth": 2}, "data": {"name": "d"},
    "encoding": {"x": {"field": "x", "type": "quantitative", "title": "Prediction score", "scale": {"domain": [-0.05, 1.05], "nice": false, "zero": false}, "axis": {"values": [0, 0.25, 0.5, 0.75, 1]}}},
    "layer": [
     {"transform": [{"filter": "datum.p == 'A4'"}], "mark": {"type": "line", "interpolate": "monotone", "strokeWidth": 1.8},
      "encoding": {"y": {"field": "y", "type": "quantitative", "title": null, "scale": {"domain": [0, 1], "nice": false, "zero": false}, "axis": {"values": [0.054, 0.355, 0.660, 0.961]}},
       "stroke": {"field": "s", "type": "nominal", "scale": {"domain": ["Nonimmunogenic", "Immunogenic"], "range": ["#E05577", "#5CE0B3"]}, "legend": {"orient": "bottom", "direction": "horizontal", "title": null, "symbolType": "stroke", "symbolSize": 730, "symbolStrokeWidth": 2.5, "columnPadding": 14, "offset": 14}}}},
     {"data": {"values": [{"x": 0.5}]}, "mark": {"type": "rule", "strokeDash": [5, 3], "color": "#555555", "strokeWidth": 1}}
    ]}
 ]
},
{
 "title": {"text": "B", "anchor": "start", "fontSize": 14, "fontWeight": "bold", "offset": 1},
 "bounds": "flush", "spacing": 11,
 "hconcat": [
   {"width": 18, "height": 154, "view": {"fill": "#C8D1D1", "stroke": null}, "data": {"values": [{"label": "External validation set"}]}, "mark": {"type": "text", "angle": 270, "fontSize": 11, "color": "#1a1a1a"}, "encoding": {"text": {"field": "label"}}},
   {"width": 173, "height": 154, "title": "DeepNeo-tcr-v1 (MHC I)", "view": {"stroke": "#1a1a1a", "strokeWidth": 2}, "data": {"name": "d"},
    "encoding": {"x": {"field": "x", "type": "quantitative", "title": "Prediction score", "scale": {"domain": [-0.045, 1.06], "nice": false, "zero": false}, "axis": {"values": [0, 0.25, 0.5, 0.75, 1]}}},
    "layer": [
     {"transform": [{"filter": "datum.p == 'B1'"}], "mark": {"type": "line", "interpolate": "monotone", "strokeWidth": 1.8},
      "encoding": {"y": {"field": "y", "type": "quantitative", "title": null, "scale": {"domain": [0, 1], "nice": false, "zero": false}, "axis": {"values": [0.043, 0.270, 0.499, 0.724, 0.952]}},
       "stroke": {"field": "s", "type": "nominal", "scale": {"domain": ["Nonimmunogenic", "Immunogenic"], "range": ["#E05577", "#5CE0B3"]}, "legend": {"orient": "bottom", "direction": "horizontal", "title": null, "symbolType": "stroke", "symbolSize": 730, "symbolStrokeWidth": 2.5, "columnPadding": 14, "offset": 14}}}},
     {"data": {"values": [{"x": 0.5}]}, "mark": {"type": "rule", "strokeDash": [5, 3], "color": "#555555", "strokeWidth": 1}}
    ]},
   {"width": 174, "height": 154, "title": "DeepNeo-tcr-v2(MHC I)", "view": {"stroke": "#1a1a1a", "strokeWidth": 2}, "data": {"name": "d"},
    "encoding": {"x": {"field": "x", "type": "quantitative", "title": "Prediction score", "scale": {"domain": [-0.065, 1.065], "nice": false, "zero": false}, "axis": {"values": [0, 0.25, 0.5, 0.75, 1]}}},
    "layer": [
     {"transform": [{"filter": "datum.p == 'B2'"}], "mark": {"type": "line", "interpolate": "monotone", "strokeWidth": 1.8},
      "encoding": {"y": {"field": "y", "type": "quantitative", "title": null, "scale": {"domain": [0, 1], "nice": false, "zero": false}, "axis": {"values": [0.050, 0.251, 0.449, 0.659, 0.860]}},
       "stroke": {"field": "s", "type": "nominal", "scale": {"domain": ["Nonimmunogenic", "Immunogenic"], "range": ["#E05577", "#5CE0B3"]}, "legend": {"orient": "bottom", "direction": "horizontal", "title": null, "symbolType": "stroke", "symbolSize": 730, "symbolStrokeWidth": 2.5, "columnPadding": 14, "offset": 14}}}},
     {"data": {"values": [{"x": 0.52}]}, "mark": {"type": "rule", "strokeDash": [5, 3], "color": "#555555", "strokeWidth": 1}}
    ]},
   {"width": 29, "height": 154, "data": {"values": []}, "mark": "point"},
   {"width": 173, "height": 154, "title": "DeepNeo-tcr-v1 (MHC II)", "view": {"stroke": "#1a1a1a", "strokeWidth": 2}, "data": {"name": "d"},
    "encoding": {"x": {"field": "x", "type": "quantitative", "title": "Prediction score", "scale": {"domain": [-0.055, 1.06], "nice": false, "zero": false}, "axis": {"values": [0, 0.25, 0.5, 0.75, 1]}}},
    "layer": [
     {"transform": [{"filter": "datum.p == 'B3'"}], "mark": {"type": "line", "interpolate": "monotone", "strokeWidth": 1.8},
      "encoding": {"y": {"field": "y", "type": "quantitative", "title": null, "scale": {"domain": [0, 1], "nice": false, "zero": false}, "axis": {"values": [0.047, 0.338, 0.628, 0.912]}},
       "stroke": {"field": "s", "type": "nominal", "scale": {"domain": ["Nonimmunogenic", "Immunogenic"], "range": ["#E05577", "#5CE0B3"]}, "legend": {"orient": "bottom", "direction": "horizontal", "title": null, "symbolType": "stroke", "symbolSize": 730, "symbolStrokeWidth": 2.5, "columnPadding": 14, "offset": 14}}}},
     {"data": {"values": [{"x": 0.5}]}, "mark": {"type": "rule", "strokeDash": [5, 3], "color": "#555555", "strokeWidth": 1}}
    ]},
   {"width": 173, "height": 154, "title": "DeepNeo-tcr-v2(MHC II)", "view": {"stroke": "#1a1a1a", "strokeWidth": 2}, "data": {"name": "d"},
    "encoding": {"x": {"field": "x", "type": "quantitative", "title": "Prediction score", "scale": {"domain": [-0.045, 1.08], "nice": false, "zero": false}, "axis": {"values": [0, 0.25, 0.5, 0.75, 1]}}},
    "layer": [
     {"transform": [{"filter": "datum.p == 'B4'"}], "mark": {"type": "line", "interpolate": "monotone", "strokeWidth": 1.8},
      "encoding": {"y": {"field": "y", "type": "quantitative", "title": null, "scale": {"domain": [0, 1], "nice": false, "zero": false}, "axis": {"values": [0.047, 0.230, 0.413, 0.596, 0.778, 0.955]}},
       "stroke": {"field": "s", "type": "nominal", "scale": {"domain": ["Nonimmunogenic", "Immunogenic"], "range": ["#E05577", "#5CE0B3"]}, "legend": {"orient": "bottom", "direction": "horizontal", "title": null, "symbolType": "stroke", "symbolSize": 730, "symbolStrokeWidth": 2.5, "columnPadding": 14, "offset": 14}}}},
     {"data": {"values": [{"x": 0.52}]}, "mark": {"type": "rule", "strokeDash": [5, 3], "color": "#555555", "strokeWidth": 1}}
    ]}
 ]
},
{
 "title": {"text": "C", "anchor": "start", "fontSize": 14, "fontWeight": "bold", "offset": 9},
 "bounds": "flush", "spacing": 11,
 "hconcat": [
   {"width": 18, "height": 155, "view": {"fill": "#C8D1D1", "stroke": null}, "data": {"values": [{"label": "Lung cancer cohort"}]}, "mark": {"type": "text", "angle": 270, "fontSize": 11, "color": "#1a1a1a"}, "encoding": {"text": {"field": "label"}}},
   {"width": 173, "height": 155, "title": "MHC I", "view": {"stroke": "#A9B7BD", "strokeWidth": 2}, "data": {"name": "d"}, "transform": [{"filter": "datum.p == 'C1'"}],
    "encoding": {"x": {"field": "x", "type": "quantitative", "title": "Prediction score", "scale": {"domain": [-0.05, 1.05], "nice": false, "zero": false}, "axis": {"values": [0, 0.25, 0.5, 0.75, 1]}},
     "y": {"field": "y", "type": "quantitative", "title": null, "scale": {"domain": [-0.038, 1], "nice": false, "zero": true}, "axis": {"values": [0, 0.209, 0.416, 0.622, 0.831]}}},
    "layer": [
     {"transform": [{"filter": "datum.s == 'DeepNeo-v1'"}], "mark": {"type": "area", "interpolate": "monotone", "fill": "#D6E98A"}},
     {"transform": [{"filter": "datum.s == 'DeepNeo-v2'"}], "mark": {"type": "area", "interpolate": "monotone", "fill": "#2698D3", "fillOpacity": 0.72}},
     {"mark": {"type": "line", "interpolate": "monotone", "color": "#111111", "strokeWidth": 1}, "encoding": {"detail": {"field": "s"}}},
     {"data": {"values": []}, "mark": {"type": "square", "opacity": 0},
      "encoding": {"fill": {"field": "s", "type": "nominal", "scale": {"domain": ["DeepNeo-v2", "DeepNeo-v1"], "range": ["#4EA4E4", "#8ED84C"]}, "legend": {"orient": "bottom", "direction": "horizontal", "title": null, "symbolType": "square", "symbolSize": 180, "symbolOpacity": 1, "symbolStrokeWidth": 0, "columnPadding": 56, "offset": 32}}}}
    ]},
   {"width": 174, "height": 155, "title": "TCR I", "view": {"stroke": "#A9B7BD", "strokeWidth": 2}, "data": {"name": "d"}, "transform": [{"filter": "datum.p == 'C2'"}],
    "encoding": {"x": {"field": "x", "type": "quantitative", "title": "Prediction score", "scale": {"domain": [-0.055, 1.04], "nice": false, "zero": false}, "axis": {"values": [0, 0.25, 0.5, 0.75, 1]}},
     "y": {"field": "y", "type": "quantitative", "title": null, "scale": {"domain": [-0.038, 1], "nice": false, "zero": true}, "axis": {"values": [0, 0.225, 0.447, 0.667, 0.888]}}},
    "layer": [
     {"transform": [{"filter": "datum.s == 'DeepNeo-v1'"}], "mark": {"type": "area", "interpolate": "monotone", "fill": "#D6E98A"}},
     {"transform": [{"filter": "datum.s == 'DeepNeo-v2'"}], "mark": {"type": "area", "interpolate": "monotone", "fill": "#2698D3", "fillOpacity": 0.72}},
     {"mark": {"type": "line", "interpolate": "monotone", "color": "#111111", "strokeWidth": 1}, "encoding": {"detail": {"field": "s"}}}
    ]},
   {"width": 29, "height": 155, "data": {"values": []}, "mark": "point"},
   {"width": 173, "height": 155, "title": "MHC II", "view": {"stroke": "#A9B7BD", "strokeWidth": 2}, "data": {"name": "d"}, "transform": [{"filter": "datum.p == 'C3'"}],
    "encoding": {"x": {"field": "x", "type": "quantitative", "title": "Prediction score", "scale": {"domain": [-0.053, 1.047], "nice": false, "zero": false}, "axis": {"values": [0, 0.25, 0.5, 0.75, 1]}},
     "y": {"field": "y", "type": "quantitative", "title": null, "scale": {"domain": [-0.038, 1], "nice": false, "zero": true}, "axis": {"values": [0, 0.265, 0.535, 0.809]}}},
    "layer": [
     {"transform": [{"filter": "datum.s == 'DeepNeo-v1'"}], "mark": {"type": "area", "interpolate": "monotone", "fill": "#D6E98A"}},
     {"transform": [{"filter": "datum.s == 'DeepNeo-v2'"}], "mark": {"type": "area", "interpolate": "monotone", "fill": "#2698D3", "fillOpacity": 0.72}},
     {"mark": {"type": "line", "interpolate": "monotone", "color": "#111111", "strokeWidth": 1}, "encoding": {"detail": {"field": "s"}}}
    ]},
   {"width": 173, "height": 155, "title": "TCR II", "view": {"stroke": "#A9B7BD", "strokeWidth": 2}, "data": {"name": "d"}, "transform": [{"filter": "datum.p == 'C4'"}],
    "encoding": {"x": {"field": "x", "type": "quantitative", "title": "Prediction score", "scale": {"domain": [-0.054, 1.054], "nice": false, "zero": false}, "axis": {"values": [0, 0.25, 0.5, 0.75, 1]}},
     "y": {"field": "y", "type": "quantitative", "title": null, "scale": {"domain": [-0.038, 1], "nice": false, "zero": true}, "axis": {"values": [0, 0.333, 0.663, 0.996]}}},
    "layer": [
     {"transform": [{"filter": "datum.s == 'DeepNeo-v1'"}], "mark": {"type": "area", "interpolate": "monotone", "fill": "#D6E98A"}},
     {"transform": [{"filter": "datum.s == 'DeepNeo-v2'"}], "mark": {"type": "area", "interpolate": "monotone", "fill": "#2698D3", "fillOpacity": 0.72}},
     {"mark": {"type": "line", "interpolate": "monotone", "color": "#111111", "strokeWidth": 1}, "encoding": {"detail": {"field": "s"}}}
    ]}
 ]
}
],
"config": {
 "font": "Liberation Sans",
 "view": {"stroke": null},
 "title": {"fontSize": 14, "fontWeight": "normal", "color": "#111111", "offset": 9},
 "axisX": {"format": ".2f", "labelFontSize": 6.5, "labelColor": "#555555", "ticks": false, "domain": false, "gridColor": "#EBEBEB", "labelPadding": 3, "labelFlush": false, "titleFontSize": 11, "titleFontWeight": "normal", "titleColor": "#1a1a1a", "titlePadding": 4},
 "axisY": {"labels": false, "ticks": false, "domain": false, "gridColor": "#EBEBEB"},
 "legend": {"labelFontSize": 11.5, "labelColor": "#1a1a1a", "layout": {"bottom": {"anchor": "middle"}}}
}
}
